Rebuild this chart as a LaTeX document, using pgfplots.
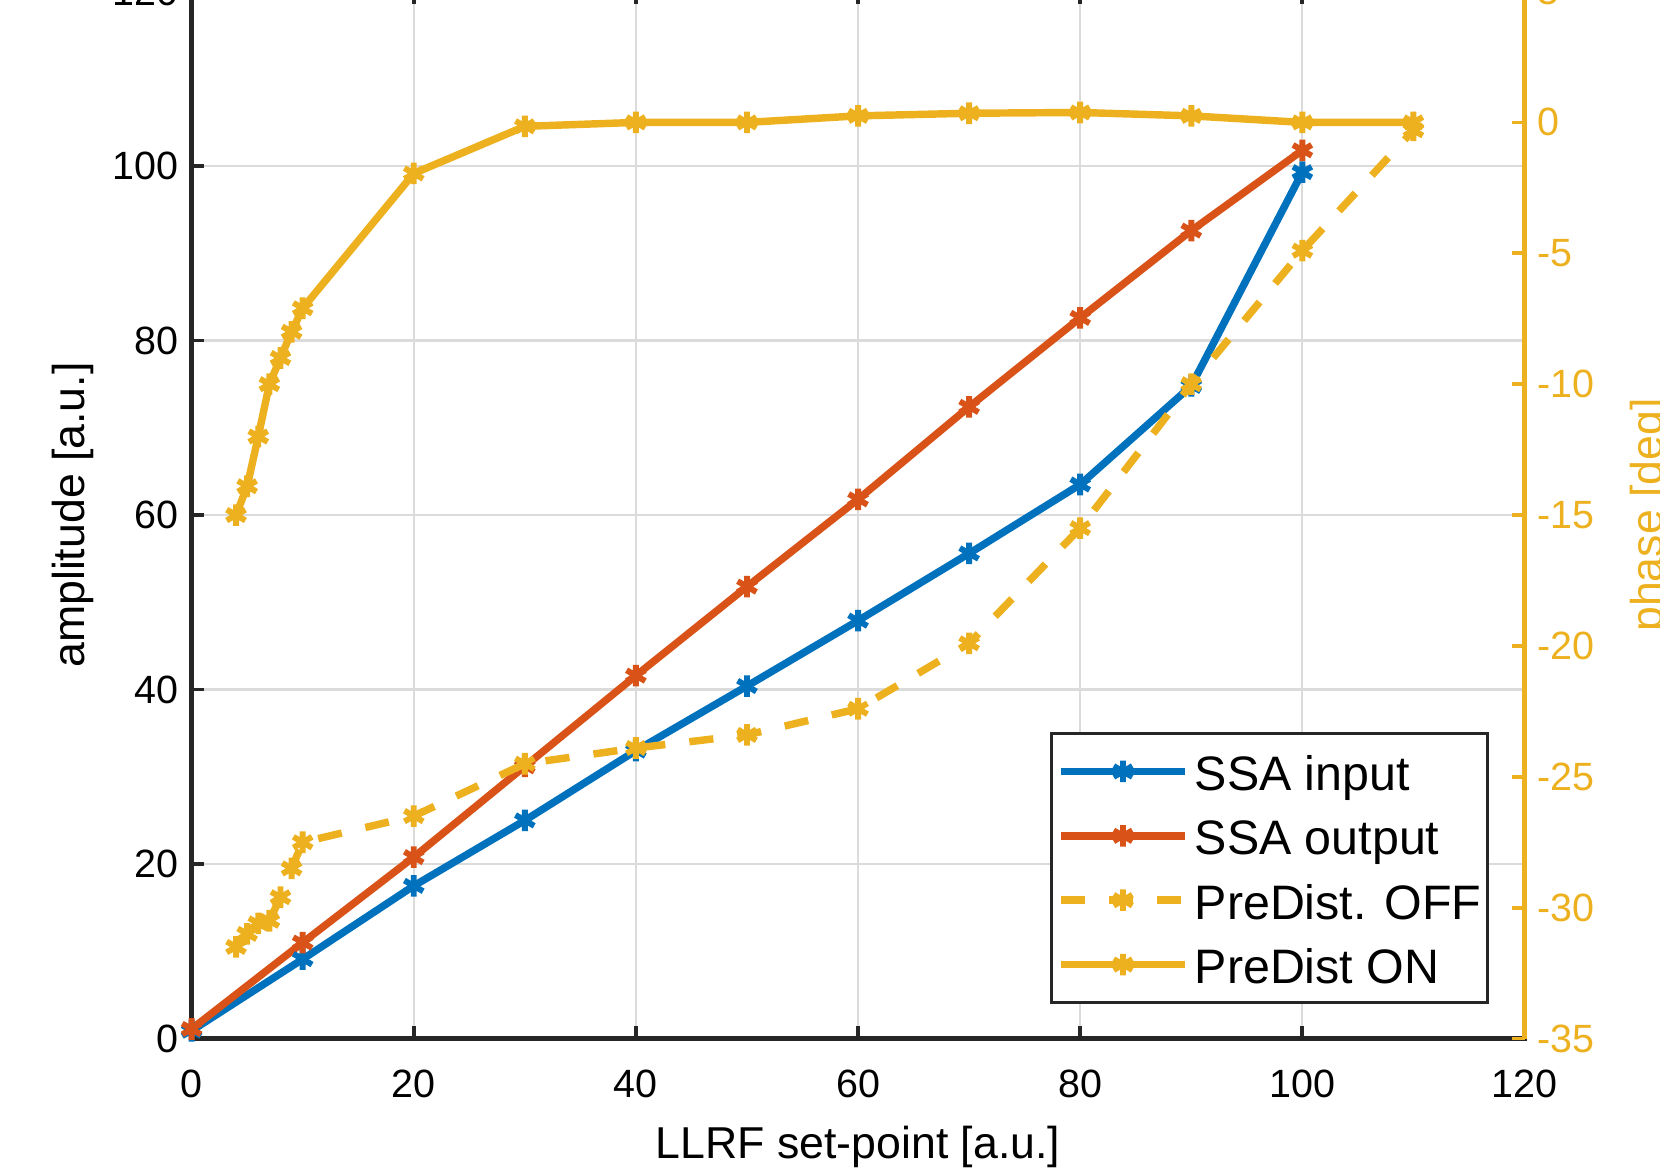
\documentclass[border=0pt]{standalone}
\usepackage{fontspec}
\setmainfont{Liberation Sans}
\usepackage{pgfplots}
\pgfplotsset{compat=1.18}

\definecolor{mblue}{rgb}{0,0.447,0.741}
\definecolor{morange}{rgb}{0.85,0.325,0.098}
\definecolor{myellow}{rgb}{0.929,0.694,0.125}
\definecolor{gridgray}{gray}{0.86}

\pgfplotsset{
  mline/.style={line width=2pt, mark=asterisk, mark size=2.9pt,
    mark options={solid, line width=1.6pt}},
  common/.style={
    scale only axis, width=12.59cm, height=9.89cm,
    xmin=0, xmax=120,
    clip=false,
    tick align=inside,
    major tick length=0.12cm,
    /pgf/number format/assume math mode=true,
    tick label style={font=\fontsize{10.6}{12}\selectfont},
    label style={font=\fontsize{12}{14}\selectfont},
  },
}

\begin{document}
\begin{tikzpicture}
\useasboundingbox (-1.81,-1.24) rectangle (13.87,9.81);
\clip (-1.81,-1.24) rectangle (13.87,9.81);

% left axis: amplitude
\begin{axis}[common,
  ymin=0, ymax=120,
  xtick={0,20,...,120}, ytick={0,20,...,120},
  ytick pos=left,
  xticklabel style={yshift=-0.17cm},
  grid=major, major grid style={line width=0.6pt, gridgray},
  axis line style={line width=1.2pt, black!85},
  tick style={line width=1pt, black!85},
  xlabel={LLRF set-point [a.u.]},
  ylabel={amplitude [a.u.]},
  xlabel style={at={(axis description cs:0.5,-0.1035)}, anchor=center},
  ylabel style={at={(axis description cs:-0.089,0.5)}, anchor=center},
]
\addplot[mline, mblue] coordinates {
  (0,0.9) (10,9.1) (20,17.5) (30,25.0) (40,33.0) (50,40.4)
  (60,47.9) (70,55.6) (80,63.5) (90,74.8) (100,99.3)
};
\addplot[mline, morange] coordinates {
  (0,1.1) (10,11.0) (20,20.8) (30,31.2) (40,41.6) (50,51.8)
  (60,61.8) (70,72.4) (80,82.6) (90,92.6) (100,101.8)
};
\end{axis}

% right axis: phase
\begin{axis}[common,
  ymin=-35, ymax=5, ytick={-35,-30,...,5},
  axis x line=none, axis y line*=right,
  y axis line style={line width=1.2pt, myellow},
  ytick style={line width=1pt, myellow},
  yticklabel style={myellow},
  ylabel={phase [deg]},
  ylabel style={myellow, at={(axis description cs:1.0945,0.5)}, anchor=center},
  legend cell align=left,
  legend style={at={(1,0)}, anchor=south east, xshift=-0.34cm, yshift=0.33cm,
    draw=black!85, line width=0.8pt, fill=white,
    font=\fontsize{13}{16}\selectfont,
    inner xsep=1.5pt, inner ysep=5pt, row sep=7.1pt, column sep=1.5pt,
    nodes={inner sep=0pt, text height=10.2pt, text depth=0pt}},
  legend image code/.code={\draw[mark repeat=2, mark phase=2, #1]
    plot coordinates {(0cm,0cm) (0.59cm,0cm) (1.18cm,0cm)};},
]
\addlegendimage{mline, mblue}
\addlegendentry{SSA input}
\addlegendimage{mline, morange}
\addlegendentry{SSA output}
\addplot[mline, myellow, dash pattern=on 6.5pt off 6.5pt] coordinates {
  (4,-31.5) (5,-31.0) (6,-30.6) (7,-30.5) (8,-29.6) (9,-28.5) (10,-27.5)
  (20,-26.5) (30,-24.5) (40,-23.9) (50,-23.4) (60,-22.4) (70,-19.9)
  (80,-15.5) (90,-10.0) (100,-4.9) (110,-0.3)
};
\addlegendentry{PreDist. OFF}
\addplot[mline, myellow] coordinates {
  (4,-15.0) (5,-13.9) (6,-12.0) (7,-10.0) (8,-9.0) (9,-8.0) (10,-7.1)
  (20,-1.95) (30,-0.15) (40,0.0) (50,0.0) (60,0.25) (70,0.35)
  (80,0.38) (90,0.25) (100,0.0) (110,0.0)
};
\addlegendentry{PreDist ON}
\end{axis}
\end{tikzpicture}
\end{document}
